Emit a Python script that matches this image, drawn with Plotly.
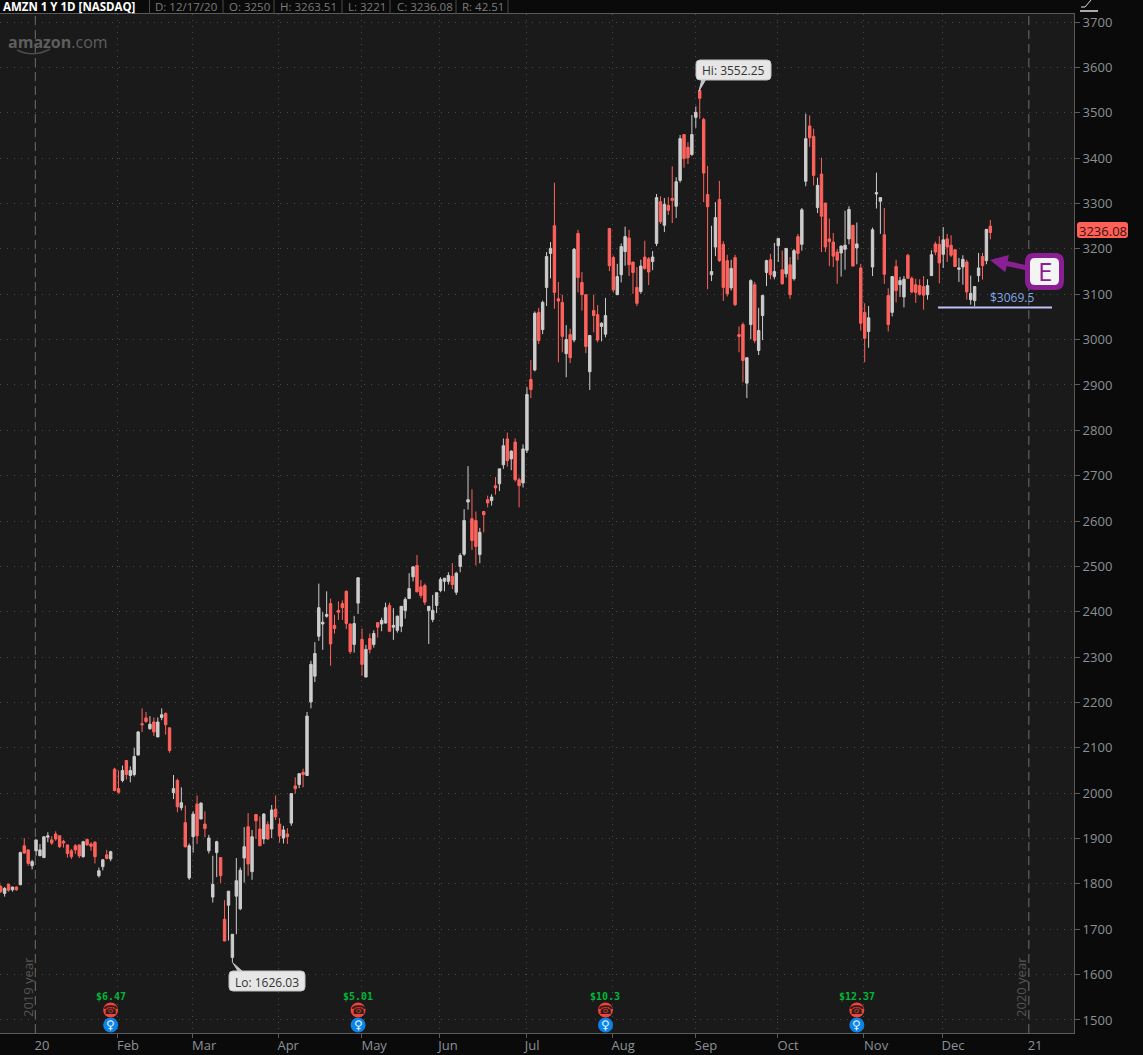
import plotly.graph_objects as go

W, H = 1143, 1055
L_, R_, T_, B_ = 0, 1074, 14, 1033

opens = [1794,1779,1799,1787,1793,1798,1884,1875,1840,1873,
1862,1858,1903,1897,1910,1906,1894,1886,1873,1884,
1886,1860,1898,1888,1892,1818,1838,1864,1855,2053,
2010,2028,2072,2039,2041,2084,2153,2166,2142,2157,
2124,2167,2176,2144,2001,2028,1968,1935,1813,1904,
1976,1943,1932,1873,1771,1869,1858,1722,1753,1638,
1773,1745,1857,1926,1827,1953,1921,1899,1931,1921,
1965,1932,1901,1910,1934,2016,2019,2046,2039,2201,
2258,2346,2373,2390,2418,2370,2403,2418,2445,2373,
2328,2419,2339,2256,2341,2328,2376,2373,2375,2414,
2366,2359,2368,2403,2429,2477,2502,2455,2458,2403,
2383,2414,2447,2467,2467,2478,2443,2500,2527,2642,
2605,2601,2526,2621,2647,2645,2678,2682,2724,2781,
2737,2774,2691,2684,2756,2912,2933,3060,3022,3115,
3190,3251,3090,3082,2969,3011,2999,3234,3126,3099,
2929,3064,3055,3029,3012,3245,3181,3099,3143,3194,
3224,3171,3115,3106,3182,3178,3172,3212,3304,3252,
3296,3311,3294,3351,3452,3424,3408,3490,3549,3485,
3320,3143,3204,3309,3210,3174,3114,3181,3011,3033,
2904,3033,3121,2976,3053,3148,3176,3139,3207,3154,
3145,3165,3134,3227,3210,3349,3471,3448,3291,3365,
3301,3222,3215,3193,3191,3199,3222,3252,3202,3158,
3060,3018,3160,3321,3305,3231,3097,3060,3161,3121,
3094,3186,3135,3121,3119,3117,3099,3141,3211,3210,
3188,3222,3208,3198,3155,3160,3171,3088,3086,3141,
3183,3174,3250]
closes = [1783,1790,1786,1793,1787,1869,1868,1845,1849,1897,
1875,1904,1906,1890,1899,1882,1890,1867,1860,1875,
1862,1893,1886,1883,1860,1829,1853,1856,1871,2006,
2002,2050,2041,2050,2081,2135,2151,2158,2152,2135,
2157,2173,2151,2094,2010,1970,1979,1882,1884,1954,
1906,1978,1922,1901,1799,1893,1818,1674,1784,1689,
1807,1830,1882,1844,1904,1939,1884,1954,1899,1963,
1948,1906,1919,1904,1999,2010,2043,2041,2170,2284,
2308,2409,2377,2394,2329,2363,2399,2409,2374,2312,
2374,2475,2284,2317,2317,2352,2366,2381,2409,2357,
2370,2390,2412,2427,2451,2499,2444,2436,2421,2412,
2403,2442,2471,2474,2480,2460,2485,2524,2601,2647,
2557,2544,2575,2614,2640,2653,2673,2715,2766,2733,
2754,2691,2678,2759,2879,2890,3058,2998,3082,3183,
3201,3104,3085,3007,3000,2960,3199,3137,3099,2985,
3009,3053,2999,3036,3053,3163,3110,3139,3205,3227,
3165,3148,3080,3162,3157,3149,3182,3313,3260,3298,
3285,3307,3348,3443,3399,3401,3452,3501,3532,3367,
3293,3150,3269,3174,3115,3101,3157,3077,3007,2954,
2960,3130,2998,3020,3097,3174,3143,3150,3223,3123,
3201,3099,3196,3190,3286,3443,3445,3362,3340,3272,
3204,3216,3184,3175,3206,3208,3287,3162,3211,3036,
3003,3048,3242,3324,3313,3144,3033,3139,3108,3130,
3133,3135,3105,3104,3100,3098,3119,3187,3193,3169,
3220,3204,3186,3161,3158,3177,3105,3102,3117,3158,
3163,3243,3236.08]
highs = [1798,1793,1801,1794,1795,1871,1901,1876,1853,1897,
1888,1905,1914,1905,1916,1907,1897,1886,1877,1888,
1886,1895,1900,1892,1894,1836,1855,1875,1873,2056,
2050,2061,2072,2059,2100,2137,2187,2179,2170,2167,
2167,2187,2178,2145,2040,2032,2013,1973,1889,1960,
1995,1980,1960,1908,1862,1895,1858,1764,1784,1689,
1857,1836,1925,1956,1919,1954,1949,1956,1938,1974,
1995,1945,1928,1923,2000,2035,2044,2054,2179,2292,
2333,2462,2399,2445,2429,2393,2423,2425,2447,2374,
2391,2475,2363,2327,2352,2359,2377,2387,2420,2420,
2408,2392,2412,2432,2485,2499,2525,2470,2462,2412,
2437,2442,2476,2474,2487,2507,2488,2529,2626,2721,
2670,2621,2585,2621,2656,2659,2697,2715,2782,2795,
2756,2782,2696,2769,2895,2955,3062,3070,3086,3193,
3215,3346,3127,3099,3032,3024,3202,3242,3149,3099,
3009,3099,3076,3038,3092,3246,3185,3167,3212,3249,
3242,3171,3160,3176,3218,3182,3195,3321,3316,3312,
3314,3382,3358,3451,3452,3435,3495,3514,3552.25,3489,
3383,3251,3303,3350,3217,3187,3176,3187,3029,3038,
2960,3133,3127,3070,3099,3176,3189,3213,3223,3196,
3201,3182,3200,3233,3290,3498,3494,3465,3357,3401,
3301,3267,3235,3200,3208,3284,3294,3252,3258,3167,
3080,3074,3247,3368,3313,3290,3113,3139,3176,3138,
3140,3189,3139,3134,3133,3140,3133,3197,3216,3228,
3248,3233,3230,3200,3180,3186,3176,3141,3117,3191,
3191,3243,3263.51]
lows = [1780,1772,1783,1783,1785,1798,1866,1840,1832,1862,
1862,1858,1892,1886,1895,1879,1880,1858,1855,1866,
1857,1858,1884,1873,1845,1814,1830,1854,1850,2004,
1999,2024,2030,2024,2037,2084,2135,2155,2140,2126,
2124,2161,2129,2089,1987,1958,1962,1880,1809,1869,
1888,1943,1903,1867,1759,1815,1801,1674,1675,1626.03,
1689,1742,1803,1818,1809,1899,1884,1888,1897,1901,
1941,1891,1889,1888,1928,1999,2011,2013,2039,2187,
2245,2336,2316,2387,2281,2352,2382,2382,2362,2307,
2310,2395,2259,2256,2308,2321,2343,2357,2374,2355,
2338,2354,2355,2385,2429,2467,2443,2430,2415,2329,
2377,2397,2443,2445,2460,2450,2437,2487,2523,2625,
2536,2502,2507,2575,2630,2634,2658,2666,2715,2720,
2712,2687,2630,2674,2750,2871,2930,2990,3012,3074,
3135,3068,2950,2972,2917,2948,2994,3104,3064,2970,
2889,3016,2994,2996,3005,3151,3104,3099,3126,3163,
3140,3101,3074,3101,3154,3120,3153,3206,3255,3237,
3275,3257,3268,3346,3379,3387,3405,3467,3487,3303,
3111,3129,3184,3171,3085,3095,3108,3074,2972,2906,
2871,3001,2992,2966,2999,3118,3133,3133,3171,3121,
3137,3090,3130,3176,3196,3338,3425,3340,3279,3193,
3193,3162,3160,3123,3139,3154,3210,3162,3166,3020,
2950,2982,3140,3289,3233,3123,3018,3051,3082,3094,
3071,3135,3102,3081,3097,3066,3088,3141,3186,3124,
3158,3171,3182,3160,3127,3121,3088,3077,3073,3127,
3132,3166,3221]
day_index = list(range(len(closes)))

month_labels = ["20","Feb","Mar","Apr","May","Jun","Jul","Aug","Sep","Oct","Nov","Dec","21"]
label_pos = [10.5,32.4,51.8,73.2,95.1,113.9,135.3,158.5,179.6,200.5,222.9,242.5,263.4]
month_starts = [29.7,48.8,70.7,91.8,111.7,133.8,155.7,176.9,197.8,219.7,239.8]
year_breaks = [8.81,261.8]
year_names = ["2019 year","2020 year"]
price_ticks = list(range(1500,3701,100))

earn_idx = [28,91,154,218]
earn_text = ["$6.47","$5.01","$10.3","$12.37"]
call_level = [1522]*4
bulb_level = [1489]*4
earn_label_level = 1551

BG = "#1a1a1a"; PANEL = "#0a0a0a"; UP = "#cdcdcd"; DOWN = "#ff625c"
AXIS = "#8b9196"; LINE = "#5a5a5a"; GRID = "#4a4a4a"; PURPLE = "#8a1f94"

def px(x): return (x - L_) / (R_ - L_)
def py(y): return (B_ - y) / (B_ - T_)

def rr(x0, y0, x1, y1, r):
    a, b, c, d = px(x0), py(y0), px(x1), py(y1)
    rx, ry = r / (R_ - L_), r / (B_ - T_)
    return (f"M{a+rx},{b} L{c-rx},{b} Q{c},{b} {c},{b-ry} L{c},{d+ry} Q{c},{d} {c-rx},{d} "
            f"L{a+rx},{d} Q{a},{d} {a},{d+ry} L{a},{b-ry} Q{a},{b} {a+rx},{b} Z")

def pline(pts):
    return "M" + " L".join(f"{px(x)},{py(y)}" for x, y in pts)

fig = go.Figure(go.Candlestick(
    x=day_index, open=opens, high=highs, low=lows, close=closes,
    increasing=dict(line=dict(color=UP, width=1), fillcolor=UP),
    decreasing=dict(line=dict(color=DOWN, width=1), fillcolor=DOWN),
    whiskerwidth=0, showlegend=False, hoverinfo="skip"))

# earnings markers
fig.add_trace(go.Scatter(x=earn_idx, y=call_level, mode="markers", showlegend=False, hoverinfo="skip",
    marker=dict(size=15, color="#f0453a", line=dict(width=0))))
fig.add_trace(go.Scatter(x=earn_idx, y=bulb_level, mode="markers", showlegend=False, hoverinfo="skip",
    marker=dict(size=15, color="#0a84e8", line=dict(width=0))))

shapes, ann = [], []

def text(x, y, s, size=12, color="#ddd", font="Open Sans", anchor="left", angle=0, bold=False):
    ann.append(dict(xref="paper", yref="paper", x=px(x), y=py(y), text=f"<b>{s}</b>" if bold else s,
                    showarrow=False, xanchor=anchor, yanchor="middle", textangle=angle,
                    font=dict(size=size, color=color, family=font)))

for xb, nm in zip(year_breaks, year_names):
    shapes.append(dict(type="line", xref="x", yref="paper", x0=xb, x1=xb, y0=0, y1=1,
                       line=dict(color="#6e6e6e", width=1, dash="9px,5px"), layer="below"))
text(28, 987, year_names[0], 13, "#555555", anchor="center", angle=-90)
text(1021, 987, year_names[1], 13, "#555555", anchor="center", angle=-90)

# top bar
for xs in [149.5,223,274,342,390,456,508]:
    shapes.append(dict(type="line", xref="paper", yref="paper", x0=px(xs), x1=px(xs), y0=py(0), y1=py(14),
                       line=dict(color="#4a4a4a", width=1)))
text(1, 6.5, "AMZN 1 Y 1D [NASDAQ]", 11.5, "#ffffff", bold=True)
for xs, s in zip([153,227,278,346,395,460], ["D: 12/17/20","O: 3250","H: 3263.51","L: 3221","C: 3236.08","R: 42.51"]):
    text(xs, 6.5, s, 11.5, "#7c7c7c")

# watermark
ann.append(dict(xref="paper", yref="paper", x=px(6), y=py(42), showarrow=False, xanchor="left", yanchor="middle",
    text="<b>amazon</b>.com", font=dict(size=16, color="#5e5e5e", family="Open Sans")))
shapes.append(dict(type="path", xref="paper", yref="paper", line=dict(color="#4a4a4a", width=1.5),
    path=f"M{px(17)},{py(50)} Q{px(33)},{py(58)} {px(50)},{py(49)}"))

# callouts
shapes.append(dict(type="path", xref="paper", yref="paper", path=pline([(699,91),(702,79),(706,79),(699,91)]),
    fillcolor="#c8c8c8", line=dict(color="#c8c8c8", width=1)))
shapes.append(dict(type="path", xref="paper", yref="paper", path=rr(696,60,771,80,4), fillcolor="#e6e6e6", line=dict(color="#c0c0c0", width=1)))
text(733.5, 70.5, "Hi: 3552.25", 12, "#333333", anchor="center")
shapes.append(dict(type="path", xref="paper", yref="paper", path=pline([(233,963),(238,971),(242,971),(233,963)]),
    fillcolor="#c8c8c8", line=dict(color="#c8c8c8", width=1)))
shapes.append(dict(type="path", xref="paper", yref="paper", path=rr(229,971,305,991,4), fillcolor="#e6e6e6", line=dict(color="#c0c0c0", width=1)))
text(267, 982, "Lo: 1626.03", 12, "#333333", anchor="center")

# earnings glyphs
for i, c, b, s in zip(earn_idx, call_level, bulb_level, earn_text):
    ann.append(dict(x=i, y=c, xref="x", yref="y", text="☎", showarrow=False, font=dict(size=12, color="#3a1a18", family="DejaVu Sans")))
    ann.append(dict(x=i, y=b, xref="x", yref="y", text="♀", showarrow=False, font=dict(size=12, color="#e8f4ff", family="DejaVu Sans")))
    ann.append(dict(x=i, y=earn_label_level, xref="x", yref="y", text=f"<b>{s}</b>", showarrow=False, font=dict(size=10, color="#00b838", family="DejaVu Sans Mono")))

# support level
shapes.append(dict(type="line", xref="paper", yref="y", x0=px(938), x1=px(1052), y0=3071, y1=3071, line=dict(color="#c0c0f5", width=2)))
text(1012, 297, "$3069.5", 12, "#7fa8e8", anchor="center")

# E badge and arrow
ann.append(dict(xref="paper", yref="paper", x=px(990), y=py(260), ax=38, ay=8, axref="pixel", ayref="pixel",
    showarrow=True, arrowhead=2, arrowsize=0.7, arrowwidth=5, arrowcolor=PURPLE, text=""))
shapes.append(dict(type="path", xref="paper", yref="paper", path=rr(1025,253,1064,290,9), fillcolor=PURPLE, line=dict(width=0)))
shapes.append(dict(type="path", xref="paper", yref="paper", path=rr(1030,258,1059,285,5), fillcolor="#f4f4f4", line=dict(width=0)))
text(1044.5, 271.5, "E", 26, PURPLE, anchor="center")

# price tag
shapes.append(dict(type="path", xref="paper", yref="paper", path=rr(1077,222,1128,238,3), fillcolor="#ff6159", line=dict(width=0)))
text(1102.5, 230.5, "3236.08", 13, "#3a1210", anchor="center")

# top-right icon
shapes.append(dict(type="path", xref="paper", yref="paper", path=pline([(1081,7),(1085,7),(1091,0)]), line=dict(color="#e0e0e0", width=1)))
shapes.append(dict(type="line", xref="paper", yref="paper", x0=px(1080), x1=px(1098), y0=py(11), y1=py(11), line=dict(color="#e0e0e0", width=1.5)))

fig.update_layout(
    width=W, height=H, paper_bgcolor=PANEL, plot_bgcolor=BG, showlegend=False, boxgap=0.12,
    margin=dict(l=L_, r=W-R_, t=T_, b=H-B_, pad=0), font=dict(family="Open Sans", color=AXIS),
    shapes=shapes, annotations=ann, dragmode=False,
    xaxis=dict(range=[-0.178,273.3], rangeslider=dict(visible=False), tickmode="array", tickvals=label_pos, ticktext=month_labels,
               tickfont=dict(size=13, color=AXIS), ticklen=0, ticks="", showgrid=False, zeroline=False,
               showline=True, linecolor=LINE, linewidth=1, mirror=True,
               minor=dict(tickmode="array", tickvals=month_starts, showgrid=True, gridcolor=GRID, griddash="1px,5px", gridwidth=1,
                          ticks="outside", ticklen=4, tickcolor=LINE)),
    yaxis=dict(range=[1471.3,3717.8], side="right", tickmode="array", tickvals=price_ticks, ticks="outside", ticklen=5, tickcolor=LINE,
               tickfont=dict(size=13, color=AXIS), showgrid=True, gridcolor=GRID, griddash="1px,6px", gridwidth=1, zeroline=False,
               showline=True, linecolor=LINE, linewidth=1, mirror=True),
)
fig.write_html("out.html", config=dict(displayModeBar=False), post_script="document.body.style.margin='0';document.body.style.overflow='hidden';")
